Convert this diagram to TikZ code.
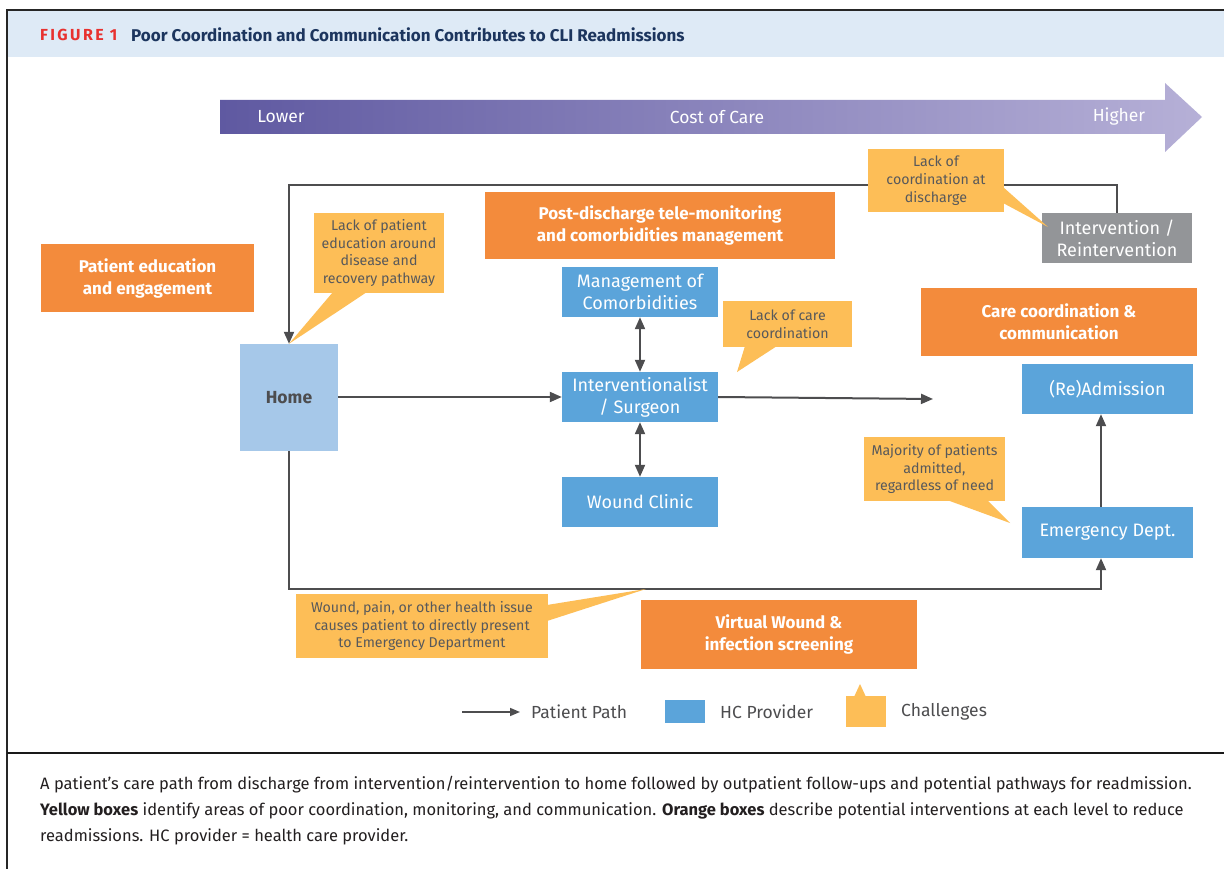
\documentclass[tikz,border=0pt]{standalone}
\usepackage{fontspec}
\setmainfont{Fira Sans}
\usetikzlibrary{arrows.meta,calc}
\definecolor{headerbg}{HTML}{DEEAF6}
\definecolor{figred}{HTML}{E8312F}
\definecolor{titleblue}{HTML}{1C355E}
\definecolor{pathgray}{HTML}{4D4D4F}
\definecolor{homeblue}{HTML}{A6C8E9}
\definecolor{provblue}{HTML}{5BA4DA}
\definecolor{orangec}{HTML}{F38B3C}
\definecolor{yellowc}{HTML}{FDBE57}
\definecolor{grayc}{HTML}{939598}
\definecolor{calltext}{HTML}{58595B}
\definecolor{arrowleft}{HTML}{5F59A1}
\definecolor{arrowright}{HTML}{B6B0D7}
\definecolor{captext}{HTML}{231F20}
\tikzset{
  prov/.style={fill=provblue, text=white, inner sep=0pt, align=center,
    font=\fontsize{18}{22}\selectfont, minimum width=156pt, minimum height=50pt},
  orangebox/.style={fill=orangec, text=white, inner sep=0pt, align=center,
    font=\fontsize{17}{22}\selectfont\bfseries},
  callout/.style={fill=yellowc, text=calltext, inner sep=0pt, align=center,
    font=\fontsize{14.2}{17.7}\selectfont},
  pathline/.style={draw=pathgray, line width=2pt},
  patharrow/.style={pathline, -{Triangle[length=12pt,width=10pt]}},
  twoway/.style={pathline, {Triangle[length=12pt,width=10pt]}-{Triangle[length=12pt,width=10pt]}},
  captionline/.style={anchor=west, inner sep=0pt, text=captext,
    font=\fontsize{16.5}{20}\selectfont},
  legendtext/.style={anchor=west, inner sep=0pt, text=pathgray,
    font=\fontsize{17.5}{20}\selectfont}
}
\begin{document}
\begin{tikzpicture}[x=1pt,y=-1pt]
\useasboundingbox (0,0) rectangle (1224,869);
\fill[white] (0,0) rectangle (1224,869);
% frame and header
\fill[headerbg] (8,11) rectangle (1224,57);
\draw[black!85, line width=2pt] (7,869) -- (7,10) -- (1224,10);
\draw[black!90, line width=2pt] (7,753) -- (1224,753);
\node[anchor=west, inner sep=0pt, text=figred, font=\fontsize{16}{18}\selectfont\bfseries\addfontfeatures{LetterSpace=15}] (figlabel) at (40,35) {FIGURE 1};
\node[anchor=west, inner sep=0pt, text=titleblue, font=\fontsize{17}{20}\selectfont\bfseries] (title) at (131,35) {Poor Coordination and Communication Contributes to CLI Readmissions};
% cost arrow
\shade[left color=arrowleft, right color=arrowright] (220,100) -- (1165,100) -- (1165,83) -- (1202,117) -- (1165,152) -- (1165,134) -- (220,134) -- cycle;
\node[inner sep=0pt, text=white, font=\fontsize{17.5}{20}\selectfont] (lower) at (281,117) {Lower};
\node[inner sep=0pt, text=white, font=\fontsize{17.5}{20}\selectfont] (cost) at (717,117) {Cost of Care};
\node[inner sep=0pt, text=white, font=\fontsize{17.5}{20}\selectfont] (higher) at (1119,117) {Higher};
% main nodes
\node[fill=homeblue, text=pathgray, inner sep=0pt, minimum width=98pt, minimum height=107pt, font=\fontsize{17.5}{20}\selectfont\bfseries] (home) at (289,397.5) {Home};
\node[fill=grayc, text=white, inner sep=0pt, align=center, minimum width=150pt, minimum height=50pt, font=\fontsize{18}{22}\selectfont] (inter) at (1117,238) {Intervention /\\Reintervention};
\node[prov] (comorb) at (640,292) {Management of\\Comorbidities};
\node[prov] (interv) at (640,397) {Interventionalist\\/ Surgeon};
\node[prov] (wound) at (640,502) {Wound Clinic};
\node[prov, minimum width=171pt] (readm) at (1107.5,389) {(Re)Admission};
\node[prov, minimum width=171pt, minimum height=51pt] (ed) at (1107.5,532.5) {Emergency Dept.};
% orange boxes
\node[orangebox, minimum width=213pt, minimum height=68pt] (ored) at (147.5,278) {Patient education\\and engagement};
\node[orangebox, minimum width=350pt, minimum height=67pt] (otele) at (660,225.5) {Post-discharge tele-monitoring\\and comorbidities management};
\node[orangebox, minimum width=276pt, minimum height=68pt] (ocare) at (1059,322) {Care coordination \&\\communication};
\node[orangebox, minimum width=276pt, minimum height=69pt] (ovirt) at (779,634.5) {Virtual Wound \&\\infection screening};
% connectors
\coordinate (topy) at (0,185);
\coordinate (boty) at (0,589);
\coordinate (edx) at (1101,0);
\coordinate (freeend) at (933,399);
\draw[patharrow] (inter.north) |- (home.north |- topy) -- (home.north);
\draw[patharrow] (home.east |- interv.west) -- (interv.west);
\draw[patharrow] (interv.east) -- (freeend);
\draw[twoway] (comorb.south) -- (interv.north);
\draw[twoway] (interv.south) -- (wound.north);
\draw[patharrow] (home.south) |- (edx |- boty) -- (edx |- ed.south);
\draw[patharrow] (edx |- ed.north) -- (edx |- readm.south);
% callouts
\node[callout, minimum width=136pt, minimum height=63pt] (c1) at (936,180.5) {Lack of\\coordination at\\discharge};
\fill[yellowc] (1003,187) -- (1048,227) -- (1003,203) -- cycle;
\node[callout, minimum width=130pt, minimum height=80pt] (c2) at (379,253) {Lack of patient\\education around\\disease and\\recovery pathway};
\fill[yellowc] (333,292) -- (home.north) -- (367,292) -- cycle;
\node[callout, minimum width=129pt, minimum height=46pt] (c3) at (787.5,324) {Lack of care\\coordination};
\fill[yellowc] (745,346) -- (737,372) -- (777,346) -- cycle;
\node[callout, minimum width=141pt, minimum height=64pt] (c4) at (934.5,469) {Majority of patients\\admitted,\\regardless of need};
\fill[yellowc] (947,500) -- (1010,523) -- (987,500) -- cycle;
\node[callout, minimum width=252pt, minimum height=64pt] (c5) at (422,626) {Wound, pain, or other health issue\\causes patient to directly present\\to Emergency Department};
\fill[yellowc] (547,605) -- (646,589) -- (547,621) -- cycle;
% legend
\coordinate (lega) at (462,712);
\coordinate (legb) at (520,712);
\draw[draw=pathgray, line width=1.5pt, -{Triangle[length=10pt,width=8pt]}] (lega) -- (legb);
\node[legendtext] (legpath) at (531,712) {Patient Path};
\node[fill=provblue, inner sep=0pt, minimum width=40pt, minimum height=23pt] (legprov) at (685,711.5) {};
\node[legendtext] (legprovt) at (720,712) {HC Provider};
\node[fill=yellowc, inner sep=0pt, minimum width=40pt, minimum height=31pt] (legchal) at (866,711.5) {};
\fill[yellowc] (854,697) -- (860,684) -- (866,697) -- cycle;
\node[legendtext] (legchalt) at (901,712) {Challenges};
% caption
\node[captionline] (cap1) at (40,785) {A patient’s care path from discharge from intervention/reintervention to home followed by outpatient follow-ups and potential pathways for readmission.};
\node[captionline] (cap2) at (40,811) {\textbf{Yellow boxes} identify areas of poor coordination, monitoring, and communication. \textbf{Orange boxes} describe potential interventions at each level to reduce};
\node[captionline] (cap3) at (40,837) {readmissions. HC provider = health care provider.};
\end{tikzpicture}
\end{document}
